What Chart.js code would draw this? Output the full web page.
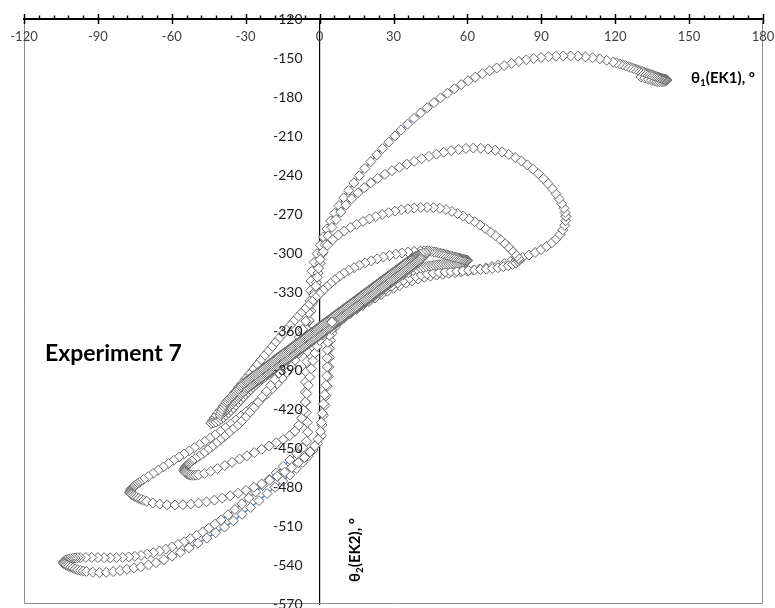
<!DOCTYPE html>
<html>
<head>
<meta charset="utf-8">
<script src="https://cdn.jsdelivr.net/npm/chart.js@4.4.0/dist/chart.umd.min.js"></script>
<style>
  html, body { margin: 0; padding: 0; background: #fff; overflow: hidden; }
  #wrap { width: 775px; height: 610px; }
</style>
</head>
<body>
<div id="wrap"><canvas id="trajectory" width="775" height="610"></canvas></div>
<script>
// [θ1, θ2] pairs, one array per half swing.
// Listed from the centre outwards; the run itself goes the other way
// (it starts at the θ1 ≈ 141° end and settles into the dark band).
const bandStart = [[5,-356],[3.5,-358],[2,-360],[0.5,-362],[-1,-364.5],[-2.5,-366.5],[-4,-368.5],[-5.5,-370.5],[-7,-372.5],[-8.5,-374.5],[-10,-377],[-11.5,-379],[-13,-381],[-14.5,-383],[-16,-385.5],[-17.5,-387.5],[-19,-389.5],[-20.5,-391.5],[-21.8,-393.5],[-22.8,-395],[-23.5,-396.3],[-24,-397]];

const smallUp = [[-24,-397],[-23.7,-395.6],[-23.2,-394.3],[-22.5,-393],[-21.6,-391.5],[-21,-387.9],[-20,-386.5],[-19,-385.1],[-18,-383.7],[-17,-382.3],[-16,-380.9],[-15,-379.5],[-14,-378.1],[-13,-376.7],[-12,-375.3],[-11,-373.9],[-10,-372.5],[-9,-371.1],[-8,-369.7],[-7,-368.3],[-6,-366.9],[-5,-365.5],[-4,-364.1],[-3,-362.7],[-2,-361.3],[-1,-359.9],[0,-358.5],[1,-357.1],[2,-355.7],[3,-354.3],[4,-352.9],[5,-351.5],[6,-350.1],[7,-348.7],[8,-347.3],[9,-345.9],[10,-344.5],[11,-343.1],[12,-341.7],[13,-340.3],[14,-338.9],[15,-337.5],[16,-336.1],[17,-334.7],[18,-333.3],[19,-331.9],[20,-330.5],[21,-329.1],[22,-327.7],[23,-326.3],[24,-324.9],[25,-323.5],[26,-322.1],[27,-320.7],[28,-319.3],[29,-317.9],[30,-316.5],[30.8,-315.6],[31.5,-314.9],[32,-314.5]];

const smallDown = [[32,-314.5],[31.6,-315.9],[30.9,-317.3],[30,-321],[29,-322.4],[28,-323.8],[27,-325.2],[26,-326.6],[25,-328],[24,-329.4],[23,-330.8],[22,-332.2],[21,-333.6],[20,-335],[19,-336.4],[18,-337.8],[17,-339.2],[16,-340.6],[15,-342],[14,-343.4],[13,-344.8],[12,-346.2],[11,-347.6],[10,-349],[9,-350.4],[8,-351.8],[7,-353.2],[6,-354.6],[5,-356],[4,-357.4],[3,-358.8],[2,-360.2],[1,-361.6],[0,-363],[-1,-364.4],[-2,-365.8],[-3,-367.2],[-4,-368.6],[-5,-370],[-6,-371.4],[-7,-372.8],[-8,-374.2],[-9,-375.6],[-10,-377],[-11,-378.4],[-12,-379.8],[-13,-381.2],[-14,-382.6],[-15,-384],[-16,-385.4],[-17,-386.8],[-18,-388.2],[-19,-389.6],[-20,-391],[-21,-392.4],[-22,-393.8],[-23,-395.2],[-24,-396.6],[-25,-398],[-26,-399.4],[-27,-400.8],[-28,-402.2],[-29,-403.6],[-30,-405],[-31,-406.4],[-32,-407.8],[-33,-409.2],[-33.8,-410.4],[-34.5,-411.3],[-35,-412]];

const aUp = [[-35,-412],[-34.8,-410.6],[-34.3,-409.2],[-33.6,-407.8],[-32.8,-406.2],[-32,-404],[-31,-402.4],[-30,-400.8],[-29,-399.1],[-28,-397.4],[-27,-395.7],[-26,-394],[-25,-392.4],[-24,-390.8],[-23,-389.3],[-22,-387.8],[-21,-386.3],[-20,-384.8],[-19,-383.3],[-18,-381.8],[-17,-380.4],[-16,-379],[-15,-377.6],[-14,-376.2],[-13,-374.8],[-12,-373.4],[-11,-372],[-10,-370.6],[-9,-369.2],[-8,-367.8],[-7,-366.4],[-6,-365],[-5,-363.6],[-4,-362.2],[-3,-360.8],[-2,-359.4],[-1,-358],[0,-356.6],[1,-355.2],[2,-353.8],[3,-352.4],[4,-351],[5,-349.6],[6,-348.2],[7,-346.8],[8,-345.4],[9,-344],[10,-342.6],[11,-341.2],[12,-339.8],[13,-338.4],[14,-337],[15,-335.6],[16,-334.2],[17,-332.8],[18,-331.4],[19,-330],[20,-328.6],[21,-327.2],[22,-325.8],[23,-324.4],[24,-323],[25,-321.6],[26,-320.2],[27,-318.8],[28,-317.4],[29,-316],[30,-314.6],[31,-313.2],[32,-311.8],[33,-310.4],[34,-309],[35,-307.6],[36,-306.2],[37,-304.9],[38,-303.7],[39,-302.6],[40,-301.6],[41,-300.8],[42,-300.3],[43,-300]];

const aDown = [[43,-300],[42.7,-301.6],[42.1,-303.1],[41.3,-304.5],[40,-307.5],[39,-308.9],[38,-310.3],[37,-311.7],[36,-313.1],[35,-314.5],[34,-315.9],[33,-317.3],[32,-318.7],[31,-320.1],[30,-321.5],[29,-322.9],[28,-324.3],[27,-325.7],[26,-327.1],[25,-328.5],[24,-329.9],[23,-331.3],[22,-332.7],[21,-334.1],[20,-335.5],[19,-336.9],[18,-338.3],[17,-339.7],[16,-341.1],[15,-342.5],[14,-343.9],[13,-345.3],[12,-346.7],[11,-348.1],[10,-349.5],[9,-350.9],[8,-352.3],[7,-353.7],[6,-355.1],[5,-356.5],[4,-357.9],[3,-359.3],[2,-360.7],[1,-362.1],[0,-363.5],[-1,-364.9],[-2,-366.3],[-3,-367.7],[-4,-369.1],[-5,-370.5],[-6,-371.9],[-7,-373.3],[-8,-374.7],[-9,-376.1],[-10,-377.5],[-11,-378.9],[-12,-380.3],[-13,-381.7],[-14,-383.1],[-15,-384.5],[-16,-385.9],[-17,-387.3],[-18,-388.8],[-19,-390.3],[-20,-391.8],[-21,-393.3],[-22,-394.9],[-23,-396.5],[-24,-398.1],[-25,-399.8],[-26,-401.5],[-27,-403.3],[-28,-405.1],[-29,-407],[-30,-408.9],[-31,-410.9],[-32,-412.9],[-33,-415],[-34,-417.1],[-35,-419.2],[-36,-421.2],[-37,-423.1],[-38,-424.9],[-39,-426.5],[-40,-427.9],[-41,-429.1],[-42,-430],[-43,-430.6],[-44,-431]];

const bUp = [[-44,-431],[-43.6,-429.2],[-42.8,-426.9],[-41.7,-424.1],[-40.4,-421],[-39,-417.7],[-37.5,-414.3],[-36,-410.8],[-34.5,-407.3],[-33,-403.8],[-31.5,-400.3],[-30,-396.8],[-28.5,-393.3],[-27,-389.8],[-25.5,-386.3],[-24,-382.8],[-22.5,-379.3],[-21,-375.9],[-19.5,-372.5],[-18,-369.1],[-16.5,-365.7],[-15,-362.4],[-13.5,-359.1],[-12,-355.8],[-10.5,-352.6],[-9,-349.4],[-7.5,-346.3],[-6,-343.2],[-4.5,-340.2],[-3,-337.2],[-1.5,-334.3],[0,-331.4],[1.5,-328.6],[3,-325.9],[4.5,-323.3],[6.2,-320.6],[8,-318],[9.9,-315.6],[11.9,-313.4],[14,-311.3],[16.2,-309.4],[18.5,-307.6],[20.9,-306],[23.4,-304.5],[25.9,-303.1],[28.4,-301.9],[30.9,-300.9],[33.4,-300],[35.9,-299.3],[38.4,-298.8],[40.9,-298.5],[42.5,-298.4],[43.5,-298.5],[44.5,-298.6],[45.5,-298.8],[46.4,-299.1],[47.3,-299.4],[48.2,-299.8],[49.1,-300.2],[50,-300.6],[50.8,-301],[51.6,-301.4],[52.4,-301.8],[53.2,-302.2],[54,-302.6],[54.7,-303],[55.4,-303.3],[56.1,-303.7],[56.7,-304],[57.3,-304.3],[57.9,-304.6],[58.4,-304.9],[58.9,-305.1],[59.3,-305.3],[59.7,-305.5],[60,-305.6]];

const bDown = [[60,-305.6],[59.9,-306],[59.6,-306.3],[59.2,-306.6],[58.7,-306.8],[58.1,-307],[57.4,-307.3],[56.7,-307.5],[55.9,-307.7],[55.1,-307.9],[54.2,-308.1],[53.3,-308.2],[52.4,-308.4],[51.5,-308.5],[50.5,-308.7],[49.5,-308.8],[48.5,-309],[47.5,-309.2],[46.5,-309.5],[45.5,-309.8],[44.5,-310.1],[43.4,-310.5],[42.2,-311],[41,-311.6],[39.5,-312.5],[38,-313.6],[36,-315.1],[34,-316.8],[32,-318.8],[30,-321],[28,-323.5],[26,-326.1],[24,-328.8],[22,-331.5],[20,-334.2],[18,-336.9],[16,-339.6],[14,-342.3],[12,-345],[10,-347.7],[8,-350.4],[6,-353.2],[4.2,-356.2],[2.6,-359.5],[1.2,-363.2],[0,-367.3],[-1,-371.8],[-1.9,-377],[-2.7,-382.8],[-3.4,-389],[-4,-395.4],[-4.6,-401.8],[-5.2,-408.2],[-5.8,-414.6],[-6.5,-421],[-7.3,-427],[-8.4,-432.5],[-10,-437],[-12.2,-440.6],[-14.8,-443.5],[-17.6,-446],[-20.5,-448.5],[-23.5,-451],[-26.5,-453.5],[-29.5,-456],[-32.5,-458.5],[-35.5,-461],[-38.5,-463.5],[-41.5,-465.9],[-44.2,-468],[-46.8,-469.6],[-49.1,-470.6],[-50.2,-470.9],[-51.1,-471],[-52,-470.9],[-52.7,-470.7],[-53.4,-470.3],[-53.9,-469.8],[-54.3,-469.2],[-54.6,-468.6],[-54.8,-468],[-55,-467.3]];

const cUp = [[-55,-467.3],[-54.9,-466.4],[-54.7,-465.6],[-54.4,-464.6],[-54,-463.7],[-53.5,-462.7],[-53,-461.8],[-51.8,-460],[-50.4,-458.2],[-48.8,-456.3],[-47.1,-454],[-45.4,-451.5],[-43.7,-449],[-42,-446.4],[-40.3,-443.8],[-38.6,-441.1],[-36.9,-438.4],[-35.2,-435.7],[-33.5,-432.9],[-31.8,-429.8],[-30.1,-426.4],[-28.4,-422.8],[-26.7,-419],[-25,-415],[-23.3,-410.8],[-21.6,-406.5],[-19.9,-402],[-18.2,-397.3],[-16.5,-392.4],[-14.8,-387.3],[-13.1,-382],[-11.4,-376.5],[-9.8,-370.8],[-8.3,-364.9],[-6.9,-358.8],[-5.6,-352.5],[-4.4,-346],[-3.3,-339.3],[-2.3,-332.5],[-1.5,-325.6],[-0.9,-318.6],[-0.4,-311.7],[0.2,-305],[1.5,-299],[3.2,-294],[5.3,-289.8],[7.6,-286.2],[10,-283.1],[12.5,-280.4],[15,-278],[17.6,-275.8],[20.2,-273.8],[22.8,-272],[25.4,-270.4],[28,-269],[30.6,-267.8],[33.2,-266.8],[35.8,-266],[38.4,-265.4],[41,-265],[43.6,-264.9],[46.2,-265.1],[48.8,-265.6],[51.3,-266.6],[53.7,-268],[56,-269.7],[58.3,-271.6],[60.6,-273.7],[62.9,-276],[65.1,-278.5],[67.2,-281.1],[69.3,-283.8],[71.3,-286.6],[73.2,-289.4],[75,-292.3],[76.6,-295.2],[78,-298],[79.2,-300.5],[80.1,-302.6],[80.7,-304.2],[81,-305]];

const cDown = [[81,-305],[80.6,-306.5],[79.7,-307.8],[78.3,-308.9],[76.6,-309.8],[74.6,-310.6],[72.4,-311.3],[70.1,-311.9],[67.7,-312.4],[65.3,-312.8],[62.9,-313.1],[60.5,-313.4],[58.1,-313.7],[55.7,-314],[53.3,-314.3],[50.9,-314.6],[48.5,-315],[46.1,-315.5],[43.7,-316.1],[41.3,-316.9],[38.9,-318],[36.5,-319.4],[34.1,-321.1],[31.7,-323.1],[29.3,-325.4],[26.9,-327.9],[24.5,-330.6],[22.1,-333.4],[19.7,-336.3],[17.3,-339.2],[14.9,-342.1],[12.5,-345.1],[10.2,-348.1],[8.1,-351.3],[6.3,-354.8],[4.9,-358.8],[3.9,-363.4],[3.3,-368.6],[3.1,-374.4],[3.1,-380.8],[3.1,-387.6],[2.9,-394.6],[2.6,-401.7],[2.1,-408.9],[1.6,-416.1],[1.1,-423.3],[0.7,-430.4],[0.3,-437.2],[-0.6,-443.3],[-2,-448.4],[-3.9,-453],[-6.1,-457.3],[-8.6,-461.3],[-11.3,-465],[-14.2,-468.5],[-17.2,-471.8],[-20.3,-474.8],[-23.5,-477.6],[-26.7,-480.2],[-29.9,-482.6],[-33.1,-484.8],[-36.3,-486.8],[-39.5,-488.6],[-42.7,-490.1],[-45.9,-491.4],[-49.1,-492.4],[-52.3,-493.1],[-55.5,-493.6],[-58.7,-493.8],[-61.9,-493.7],[-64.9,-493.2],[-67.7,-492.3],[-70.2,-491],[-71.4,-490.3],[-72.4,-489.5],[-73.4,-488.8],[-74.2,-488],[-75,-487.3],[-75.6,-486.6],[-76.1,-485.9],[-76.5,-485.3],[-76.8,-484.7],[-77,-484.2]];

const dUp = [[-77,-484.2],[-76.9,-483.3],[-76.7,-482.4],[-76.4,-481.4],[-75.9,-480.5],[-75.3,-479.5],[-74.7,-478.5],[-74,-477.5],[-73.2,-476.5],[-71.5,-474.3],[-69.6,-472],[-67.6,-469.6],[-65.5,-467.1],[-63.4,-464.6],[-61.3,-462],[-59.2,-459.5],[-57.1,-457],[-55,-454.6],[-52.9,-452.2],[-50.8,-449.8],[-48.7,-447.4],[-46.6,-445],[-44.5,-442.5],[-42.4,-439.9],[-40.3,-437.2],[-38.2,-434.4],[-36.1,-431.5],[-34,-428.5],[-31.9,-425.4],[-29.8,-422.2],[-27.7,-418.9],[-25.6,-415.5],[-23.5,-412],[-21.4,-408.3],[-19.3,-404.5],[-17.2,-400.5],[-15.2,-396.3],[-13.3,-391.9],[-11.5,-387.3],[-9.9,-382.4],[-8.5,-377.2],[-7.3,-371.5],[-6.2,-365.3],[-5.2,-358.7],[-4.3,-351.8],[-3.5,-344.7],[-2.7,-337.5],[-2,-330.2],[-1.3,-322.8],[-0.6,-315.4],[0.2,-308],[1.1,-300.7],[2.2,-293.6],[3.5,-286.8],[5,-280.3],[6.7,-274.2],[8.6,-268.5],[10.7,-263.2],[13,-258.3],[15.5,-253.8],[18.1,-249.7],[20.8,-246],[23.6,-242.6],[26.5,-239.5],[29.4,-236.7],[32.4,-234.1],[35.4,-231.7],[38.4,-229.5],[41.4,-227.5],[44.4,-225.7],[47.4,-224],[50.4,-222.5],[53.4,-221.3],[56.4,-220.3],[59.4,-219.6],[62.4,-219.3],[65.4,-219.4],[68.4,-219.9],[71.3,-220.9],[74.1,-222.3],[76.8,-224.2],[79.4,-226.5],[81.9,-229.2],[84.3,-232.2],[86.6,-235.5],[88.8,-239],[90.8,-242.7],[92.7,-246.5],[94.4,-250.4],[95.9,-254.3],[97.2,-258.2],[98.3,-262],[99.2,-265.6],[99.7,-268.9],[100,-271.8]];

const dDown = [[100,-271.8],[99.9,-275.2],[99.5,-278.7],[98.7,-282.3],[97.6,-285.8],[96.1,-289.1],[94.3,-292.1],[92.2,-294.9],[89.9,-297.4],[87.5,-299.6],[85,-301.6],[82.5,-303.4],[80,-305.1],[77.5,-306.6],[75,-308],[72.5,-309.3],[70,-310.4],[67.5,-311.4],[65,-312.3],[62.5,-313.1],[60,-313.8],[57.5,-314.5],[55,-315.1],[52.5,-315.7],[50,-316.3],[47.5,-317],[45,-317.8],[42.5,-318.8],[40,-320],[37.5,-321.4],[35,-323.1],[32.5,-325],[30,-327.1],[27.5,-329.4],[25,-331.9],[22.5,-334.6],[20,-337.4],[17.5,-340.3],[15,-343.3],[12.5,-346.4],[10.1,-349.6],[8,-353.1],[6.3,-357.1],[5.1,-361.8],[4.4,-367.3],[4.1,-373.5],[4,-380.3],[3.8,-387.5],[3.5,-394.9],[3.1,-402.4],[2.6,-409.9],[2.1,-417.4],[1.5,-424.9],[1,-432.4],[0.7,-440.5],[-0.9,-446.6],[-2.6,-451.5],[-4.6,-456.3],[-6.9,-461.1],[-9.4,-465.9],[-12.1,-470.7],[-15,-475.4],[-18.1,-480.2],[-21.3,-485],[-24.6,-490.5],[-28,-495.8],[-31.5,-501],[-35,-506],[-38.6,-510.8],[-42.2,-515.2],[-45.8,-519.3],[-49.4,-523.2],[-53,-526.8],[-56.5,-530.2],[-59.9,-533.2],[-63.2,-535.9],[-66.4,-538.2],[-69.5,-540],[-72.5,-541.3],[-75.4,-542.3],[-78.2,-543.3],[-81,-544.3],[-83.8,-545.1],[-86.6,-545.6],[-89.4,-545.8],[-92.1,-545.5],[-94.7,-545],[-95.9,-544.6],[-97.1,-544.2],[-98.2,-543.7],[-99.2,-543],[-100.1,-542.4],[-101,-541.7],[-101.8,-541],[-102.5,-540.4],[-103,-539.9],[-103.5,-539.3],[-103.8,-538.9],[-104,-538.4]];

const eUp = [[-104,-538.4],[-103.9,-537.7],[-103.6,-537],[-103.2,-536.4],[-102.6,-535.9],[-101.9,-535.5],[-101.1,-535.1],[-100.2,-534.8],[-99.3,-534.6],[-98.3,-534.4],[-97.2,-534.3],[-94.9,-534.2],[-92.5,-534.2],[-90,-534.3],[-87.5,-534.4],[-85,-534.4],[-82.5,-534.3],[-80,-534.1],[-77.5,-533.8],[-75,-533.3],[-72.5,-532.6],[-70,-531.7],[-67.5,-530.6],[-65,-529.3],[-62.5,-527.8],[-60,-526.1],[-57.5,-524.2],[-55,-522.1],[-52.5,-519.8],[-50,-517.3],[-47.5,-514.6],[-45,-511.7],[-42.5,-508.6],[-40,-505.3],[-37.2,-501.4],[-34.4,-497.3],[-31.6,-493],[-28.8,-488.5],[-26,-483.8],[-23.2,-479],[-20.4,-474.1],[-17.6,-469.1],[-14.8,-464.1],[-12,-459.2],[-9.3,-454.5],[-6.9,-449.9],[-5.3,-444.8],[-4.8,-437.8],[-5,-430.3],[-5.4,-422.6],[-5.7,-414.8],[-5.8,-407],[-5.7,-399.2],[-5.5,-391.4],[-5.2,-383.6],[-4.9,-375.8],[-4.7,-368],[-4.5,-360.2],[-4.3,-352.4],[-4.1,-344.6],[-3.9,-336.8],[-3.7,-329],[-3.5,-321.5],[-3.1,-314],[-2.2,-307.2],[-1,-300.5],[0.3,-294],[1.6,-287.7],[3,-281.5],[4.5,-275.4],[6.1,-269.4],[7.9,-263.5],[9.8,-257.6],[11.8,-251.8],[13.9,-246.1],[16.1,-240.5],[18.4,-235],[20.8,-229.7],[23.2,-224.5],[25.6,-219.6],[28.1,-214.7],[30.6,-210],[33.1,-205.4],[35.7,-200.9],[38.3,-196.5],[41,-192.3],[43.7,-188.3],[46.4,-184.4],[49.1,-180.7],[51.9,-177.1],[54.7,-173.7],[57.5,-170.5],[60.3,-167.5],[63.2,-164.7],[66.1,-162.1],[69,-159.8],[71.9,-157.7],[74.9,-155.8],[77.9,-154.1],[80.9,-152.6],[83.9,-151.4],[86.9,-150.4],[89.9,-149.6],[92.9,-149],[95.9,-148.6],[98.9,-148.4],[101.9,-148.4],[104.9,-148.6],[107.9,-149.1],[110.8,-149.8],[113.7,-150.7],[116.5,-151.8],[119.2,-153.1],[120.5,-153.8],[121.8,-154.5],[123,-155.2],[124.2,-155.9],[125.3,-156.6],[126.4,-157.3],[127.4,-158],[128.4,-158.6],[129.3,-159.2],[130.2,-159.8],[131,-160.4],[131.8,-160.9],[132.6,-161.4],[133.3,-161.9],[134,-162.4],[134.7,-162.8],[135.3,-163.3],[135.9,-163.7],[136.5,-164.1],[137,-164.5],[137.5,-164.8],[138,-165.1],[138.5,-165.4],[138.9,-165.7],[139.3,-165.9],[139.7,-166.1],[140,-166.3],[140.3,-166.5],[140.6,-166.6],[140.8,-166.8],[141,-166.9],[140.8,-167.4],[140.4,-167.8],[139.8,-168.1],[139,-168.3],[138,-168.3],[137,-168.1],[136,-167.7],[134.8,-167.1],[133.5,-166.4],[132,-165.5],[130.5,-164.6]];

// last, slow swings in the dark band (in run order)
const settleDown = [[4.5,-356.7],[4,-357.4],[3.5,-358.1],[3,-358.8],[2.5,-359.5],[2,-360.2],[1.5,-360.9],[1,-361.6],[0.5,-362.3],[0,-363],[-0.5,-363.7],[-1,-364.4],[-1.5,-365.1],[-2,-365.8],[-2.5,-366.5],[-3,-367.2],[-3.5,-367.9],[-4,-368.6],[-4.5,-369.3],[-5,-370],[-5.5,-370.7],[-6,-371.4],[-6.5,-372.1],[-7,-372.8],[-7.5,-373.5],[-8,-374.2],[-8.5,-374.9],[-9,-375.6],[-9.5,-376.3],[-10,-377],[-10.5,-377.7],[-11,-378.4],[-11.5,-379.1],[-12,-379.8],[-12.5,-380.5],[-13,-381.2],[-13.5,-381.9],[-14,-382.6],[-14.5,-383.3],[-15,-384],[-15.5,-384.7],[-16,-385.4],[-16.5,-386.1],[-17,-386.8],[-17.5,-387.5],[-18,-388.2],[-18.5,-388.9],[-19,-389.6],[-19.5,-390.3],[-20,-391],[-20.5,-391.7],[-21,-392.4],[-21.5,-393.1],[-22,-393.8],[-22.5,-394.5],[-23,-395.2],[-23.5,-395.9],[-24,-396.6],[-24.5,-397.3],[-25,-398],[-25.5,-398.7],[-26,-399.4],[-26.5,-400.1],[-27,-400.8],[-27.5,-401.5],[-28,-402.2],[-28.5,-402.9],[-29,-403.6],[-29.5,-404.3],[-30,-405],[-30.5,-406],[-31,-407],[-31.5,-408],[-32,-409],[-32.5,-410],[-33,-411],[-33.5,-412],[-34,-413],[-34.5,-414],[-35,-415],[-35.5,-416],[-36,-417],[-36.5,-418],[-37,-419],[-37.5,-420],[-38,-421],[-38.5,-422],[-39,-422.9],[-39.5,-423.7],[-40,-424.4],[-40.3,-425]];

const settleUp = [[-40.1,-423.4],[-39.8,-421.8],[-39.4,-420.1],[-38.9,-418.3],[-38.4,-416.6],[-38,-415],[-37.5,-414],[-37,-413],[-36.5,-412],[-36,-411],[-35.5,-410],[-35,-409],[-34.5,-408],[-34,-407],[-33.5,-406],[-33,-405],[-32.5,-404],[-32,-403],[-31.5,-402],[-31,-401],[-30.5,-400],[-30,-399],[-29.5,-398.3],[-29,-397.6],[-28.5,-396.9],[-28,-396.2],[-27.5,-395.5],[-27,-394.8],[-26.5,-394.1],[-26,-393.4],[-25.5,-392.7],[-25,-392],[-24.5,-391.3],[-24,-390.6],[-23.5,-389.9],[-23,-389.2],[-22.5,-388.5],[-22,-387.8],[-21.5,-387.1],[-21,-386.4],[-20.5,-385.7],[-20,-385],[-19.5,-384.3],[-19,-383.6],[-18.5,-382.9],[-18,-382.2],[-17.5,-381.5],[-17,-380.8],[-16.5,-380.1],[-16,-379.4],[-15.5,-378.7],[-15,-378],[-14.5,-377.3],[-14,-376.6],[-13.5,-375.9],[-13,-375.2],[-12.5,-374.5],[-12,-373.8],[-11.5,-373.1],[-11,-372.4],[-10.5,-371.7],[-10,-371],[-9.5,-370.3],[-9,-369.6],[-8.5,-368.9],[-8,-368.2],[-7.5,-367.5],[-7,-366.8],[-6.5,-366.1],[-6,-365.4],[-5.5,-364.7],[-5,-364],[-4.5,-363.3],[-4,-362.6],[-3.5,-361.9],[-3,-361.2],[-2.5,-360.5],[-2,-359.8],[-1.5,-359.1],[-1,-358.4],[-0.5,-357.7],[0,-357],[0.5,-356.3],[1,-355.6],[1.5,-354.9],[2,-354.2],[2.5,-353.5],[3,-352.8],[3.5,-352.1],[4,-351.4],[4.5,-350.7],[5,-350],[5.5,-349.3],[6,-348.6],[6.5,-347.9],[7,-347.2],[7.5,-346.5],[8,-345.8],[8.5,-345.1],[9,-344.4],[9.5,-343.7],[10,-343],[10.5,-342.3],[11,-341.6],[11.5,-340.9],[12,-340.2],[12.5,-339.5],[13,-338.8],[13.5,-338.1],[14,-337.4],[14.5,-336.7],[15,-336],[15.5,-335.3],[16,-334.6],[16.5,-333.9],[17,-333.2],[17.5,-332.5],[18,-331.8],[18.5,-331.1],[19,-330.4],[19.5,-329.7],[20,-329],[20.5,-328.3],[21,-327.6],[21.5,-326.9],[22,-326.2],[22.5,-325.5],[23,-324.8],[23.5,-324.1],[24,-323.4],[24.5,-322.7],[25,-322],[25.5,-321.3],[26,-320.6],[26.5,-319.9],[27,-319.2],[27.5,-318.5],[28,-317.8],[28.5,-317.1],[29,-316.4],[29.5,-315.7],[30,-315],[30.5,-314.3],[31,-313.6],[31.5,-312.9],[32,-312.2],[32.5,-311.5],[33,-310.8],[33.5,-310.1],[34,-309.4],[34.5,-308.7],[35,-308],[35.5,-307.3],[36,-306.6],[36.5,-305.9],[37,-305.2],[37.5,-304.6],[38,-304],[38.5,-303.5],[39,-303.1],[39.5,-302.8],[40,-302.6],[40.4,-302.6],[40.7,-302.9],[40.9,-303.4]];

const settleEnd = [[40.8,-304.3],[40.5,-305.3],[40,-306.4],[39.5,-307.1],[39,-307.8],[38.5,-308.5],[38,-309.2],[37.5,-309.9],[37,-310.6],[36.5,-311.3],[36,-312],[35.5,-312.7],[35,-313.4],[34.5,-314.1],[34,-314.8],[33.5,-315.5],[33,-316.2],[32.5,-316.9],[32,-317.6],[31.5,-318.3],[31,-319],[30.5,-319.7],[30,-320.4],[29.5,-321.1],[29,-321.8],[28.5,-322.5],[28,-323.2],[27.5,-323.9],[27,-324.6],[26.5,-325.3],[26,-326],[25.5,-326.7],[25,-327.4],[24.5,-328.1],[24,-328.8],[23.5,-329.5],[23,-330.2],[22.5,-330.9],[22,-331.6],[21.5,-332.3],[21,-333],[20.5,-333.7],[20,-334.4],[19.5,-335.1],[19,-335.8],[18.5,-336.5],[18,-337.2],[17.5,-337.9],[17,-338.6],[16.5,-339.3],[16,-340],[15.5,-340.7],[15,-341.4],[14.5,-342.1],[14,-342.8],[13.5,-343.5],[13,-344.2],[12.5,-344.9],[12,-345.6],[11.5,-346.3],[11,-347],[10.5,-347.7],[10,-348.4],[9.5,-349.1],[9,-349.8],[8.5,-350.5],[8,-351.2],[7.5,-351.9],[7,-352.6],[6.5,-353.3],[6,-353.6],[5.5,-353.5],[5,-353.2]];

const xAxisRange = [-120, 180];
const yAxisRange = [-570, -120];
const majorStep = 30;
const minorStep = 6;

const xTitle = ['θ', '1', '(EK1), °'];
const yTitle = ['θ', '2', '(EK2), °'];
const noteText = 'Experiment 7';

const FONT = 'Lato, "DejaVu Sans", sans-serif';

// run order: outer swings first, then the decaying swings in the band
const outward = [].concat(bandStart, smallUp, smallDown, aUp, aDown, bUp, bDown,
    cUp, cDown, dUp, dDown, eUp);
const path = outward.reverse().concat(settleDown, settleUp, settleEnd)
    .map(([t1, t2]) => ({ x: t1, y: t2 }));

function drawSubscripted(ctx, parts, size) {
    let x = 0;
    ctx.font = 'bold ' + size + 'px ' + FONT;
    ctx.fillText(parts[0], x, 0);
    x += ctx.measureText(parts[0]).width;
    ctx.font = 'bold ' + Math.round(size * 0.65) + 'px ' + FONT;
    ctx.fillText(parts[1], x, 3);
    x += ctx.measureText(parts[1]).width;
    ctx.font = 'bold ' + size + 'px ' + FONT;
    ctx.fillText(parts[2], x, 0);
}

const decorPlugin = {
    id: 'decor',
    beforeDatasetsDraw(chart) {
        const { ctx, chartArea: area, scales: { x, y } } = chart;
        ctx.save();
        // plot area frame (top edge is the θ1 axis)
        ctx.strokeStyle = '#8c8c8c';
        ctx.lineWidth = 1;
        ctx.beginPath();
        ctx.moveTo(area.left + 0.5, area.top);
        ctx.lineTo(area.left + 0.5, area.bottom - 0.5);
        ctx.lineTo(area.right - 0.5, area.bottom - 0.5);
        ctx.lineTo(area.right - 0.5, area.top);
        ctx.stroke();

        // major/minor tick marks on the top axis
        const axisY = y.getPixelForValue(yAxisRange[1]);
        ctx.strokeStyle = '#000';
        ctx.lineWidth = 1.5;
        for (let v = xAxisRange[0]; v <= xAxisRange[1]; v += minorStep) {
            const px = Math.round(x.getPixelForValue(v)) + 0.5;
            const major = v % majorStep === 0;
            ctx.beginPath();
            ctx.moveTo(px, axisY - (major ? 5 : 3.5));
            ctx.lineTo(px, axisY + (major ? 5 : 0));
            ctx.stroke();
        }
        ctx.restore();
    },
    afterDatasetsDraw(chart) {
        const { ctx, scales: { x, y } } = chart;
        const axisY = y.getPixelForValue(yAxisRange[1]);
        const axisX = x.getPixelForValue(0);
        ctx.save();
        // tick labels of both axes, taken from the scales' own ticks
        ctx.font = '13px ' + FONT;
        ctx.fillStyle = '#404040';
        ctx.textAlign = 'center';
        ctx.textBaseline = 'top';
        x.ticks.forEach(t => {
            ctx.fillText(String(t.value), x.getPixelForValue(t.value), axisY + 11);
        });
        ctx.font = '14px ' + FONT;
        ctx.fillStyle = '#1a1a1a';
        ctx.textAlign = 'right';
        ctx.textBaseline = 'middle';
        y.ticks.forEach(t => {
            ctx.fillText(String(t.value), axisX - 17, y.getPixelForValue(t.value));
        });
        ctx.restore();
    },
    afterDraw(chart) {
        const { ctx, chartArea: area } = chart;
        ctx.save();
        ctx.fillStyle = '#000';
        ctx.textBaseline = 'alphabetic';
        ctx.textAlign = 'left';

        ctx.save();
        ctx.translate(area.right - 72, 83);
        drawSubscripted(ctx, xTitle, 15);
        ctx.restore();

        ctx.save();
        ctx.translate(360, 582);
        ctx.rotate(-Math.PI / 2);
        drawSubscripted(ctx, yTitle, 15);
        ctx.restore();

        ctx.font = 'bold 23px ' + FONT;
        ctx.fillText(noteText, 45, 361);
        ctx.restore();
    }
};

Chart.defaults.font.family = FONT;

new Chart(document.getElementById('trajectory'), {
    type: 'scatter',
    data: {
        datasets: [{
            label: 'θ2 vs θ1',
            data: path,
            showLine: true,
            borderColor: '#4f81bd',
            borderWidth: 1.5,
            tension: 0,
            pointStyle: 'rectRot',
            pointRadius: 5,
            pointBorderWidth: 1,
            pointBorderColor: '#666666',
            pointBackgroundColor: '#ffffff'
        }]
    },
    options: {
        responsive: false,
        animation: false,
        devicePixelRatio: 1,
        layout: {
            padding: { left: 24, top: 19, right: 12, bottom: 0 }
        },
        plugins: {
            legend: { display: false },
            tooltip: { enabled: false }
        },
        scales: {
            x: {
                type: 'linear',
                min: xAxisRange[0],
                max: xAxisRange[1],
                position: { y: yAxisRange[1] },
                border: { display: true, color: '#000', width: 2 },
                grid: { drawOnChartArea: false, drawTicks: false },
                ticks: { stepSize: majorStep, autoSkip: false, display: false }
            },
            y: {
                type: 'linear',
                min: yAxisRange[0],
                max: yAxisRange[1],
                position: { x: 0 },
                border: { display: true, color: '#000', width: 1.2 },
                grid: { drawOnChartArea: false, drawTicks: false },
                ticks: { stepSize: majorStep, autoSkip: false, display: false }
            }
        }
    },
    plugins: [decorPlugin]
});
</script>
</body>
</html>
